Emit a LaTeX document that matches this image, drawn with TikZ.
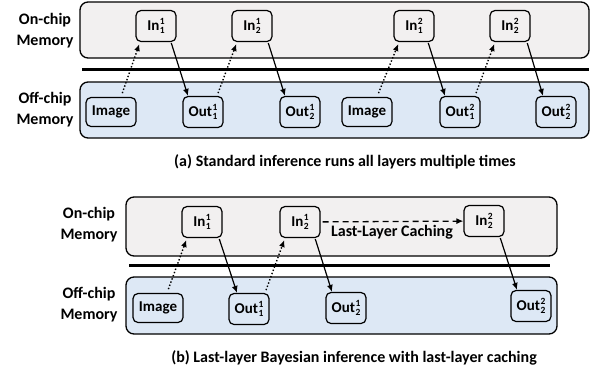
\documentclass[tikz,border=0pt]{standalone}
\usepackage{fontspec}
\setmainfont{Carlito}
\usetikzlibrary{arrows.meta}
\usetikzlibrary{positioning}

\definecolor{onchip}{RGB}{242,240,240}
\definecolor{offchip}{RGB}{221,232,245}
\newcommand{\lay}[2]{\kern0.5pt\raisebox{-2.5pt}{\vbox{\fontsize{9.5}{8.5}\selectfont\hbox{#1}\hbox{#2}}}}

\begin{document}
\begin{tikzpicture}[x=1pt,y=-1pt,font=\bfseries\fontsize{15}{17}\selectfont,
	mem/.style={draw,line width=1.3pt,rounded corners=8pt},
	sep/.style={line width=3pt},
	buf/.style={draw,line width=1.2pt,rounded corners=5pt,minimum width=40pt,minimum height=31pt,inner sep=1pt},
	pic/.style={buf,minimum width=50pt,minimum height=29pt},
	load/.style={-{Latex[length=7pt,width=6pt]},line width=1.4pt,dotted},
	store/.style={-{Latex[length=7pt,width=6pt]},line width=1.2pt},
	cache/.style={-{Latex[length=7pt,width=6pt]},line width=1.3pt,dash pattern=on 6pt off 4pt},
	lbl/.style={align=center,font=\bfseries\fontsize{16}{21}\selectfont},
	captext/.style={font=\bfseries\fontsize{16}{18}\selectfont}]
	\useasboundingbox (0,0) rectangle (600,373);

	% (a) standard inference
	\draw[mem,fill=onchip] (80,2) rectangle (589,58);
	\draw[sep] (82,69) -- (589,69);
	\draw[mem,fill=offchip] (80,82) rectangle (589,138);
	\node[lbl] (a-on) at (45,31) {On-chip\\Memory};
	\node[lbl] (a-off) at (45,110) {Off-chip\\Memory};

	\node[buf] (a-in11) at (156,26) {In\lay11};
	\node[buf] (a-in21) at (252,26) {In\lay12};
	\node[buf] (a-in12) at (414,26) {In\lay21};
	\node[buf] (a-in22) at (510,26) {In\lay22};
	\node[pic] (a-img1) at (111,112) {Image};
	\node[buf] (a-out11) at (203,112) {Out\lay11};
	\node[buf] (a-out21) at (300,112) {Out\lay12};
	\node[pic] (a-img2) at (367,112) {Image};
	\node[buf] (a-out12) at (460,112) {Out\lay21};
	\node[buf] (a-out22) at (556,112) {Out\lay22};

	\draw[load,shorten <=4pt,shorten >=2pt] ([xshift=10pt]a-img1.north) -- ([xshift=-16pt]a-in11.south);
	\draw[store,shorten <=1pt] ([xshift=15pt]a-in11.south) -- ([xshift=-15pt]a-out11.north);
	\draw[load,shorten <=3pt,shorten >=2pt] ([xshift=14pt]a-out11.north) -- ([xshift=-15pt]a-in21.south);
	\draw[store,shorten <=1pt] ([xshift=16pt]a-in21.south) -- ([xshift=-15pt]a-out21.north);
	\draw[load,shorten <=4pt,shorten >=2pt] ([xshift=10pt]a-img2.north) -- ([xshift=-15pt]a-in12.south);
	\draw[store,shorten <=1pt] ([xshift=14pt]a-in12.south) -- ([xshift=-15pt]a-out12.north);
	\draw[load,shorten <=3pt,shorten >=2pt] ([xshift=15pt]a-out12.north) -- ([xshift=-15pt]a-in22.south);
	\draw[store,shorten <=1pt] ([xshift=17pt]a-in22.south) -- ([xshift=-13pt]a-out22.north);

	\node[captext] (a-cap) at (345,162) {(a) Standard inference runs all layers multiple times};

	% (b) last-layer caching
	\draw[mem,fill=onchip] (126,197) rectangle (557,256);
	\draw[sep] (129,265) -- (550,265);
	\draw[mem,fill=offchip] (126,277) rectangle (557,334);
	\node[lbl] (b-on) at (89,225) {On-chip\\Memory};
	\node[lbl] (b-off) at (89,305) {Off-chip\\Memory};

	\node[buf] (b-in11) at (202,222) {In\lay11};
	\node[buf] (b-in21) at (300,222) {In\lay12};
	\node[buf] (b-in22) at (484,221) {In\lay22};
	\node[pic] (b-img) at (158,308) {Image};
	\node[buf] (b-out11) at (249,309) {Out\lay11};
	\node[buf] (b-out21) at (346,308) {Out\lay12};
	\node[buf] (b-out22) at (531,306) {Out\lay22};

	\draw[load,shorten <=4pt,shorten >=2pt] ([xshift=9pt]b-img.north) -- ([xshift=-15pt]b-in11.south);
	\draw[store,shorten <=1pt] ([xshift=17pt]b-in11.south) -- ([xshift=-12pt]b-out11.north);
	\draw[load,shorten <=3pt,shorten >=2pt] ([xshift=16pt]b-out11.north) -- ([xshift=-15pt]b-in21.south);
	\draw[store,shorten <=1pt] ([xshift=15pt]b-in21.south) -- ([xshift=-14pt]b-out21.north);
	\draw[cache,shorten <=2pt] (b-in21) -- (b-in22) node[midway,below=0pt,captext] (b-note) {Last-Layer Caching};
	\draw[store,shorten <=1pt] ([xshift=16pt]b-in22.south) -- ([xshift=-14pt]b-out22.north);

	\node[captext] (b-cap) at (354,358) {(b) Last-layer Bayesian inference with last-layer caching};
\end{tikzpicture}
\end{document}
